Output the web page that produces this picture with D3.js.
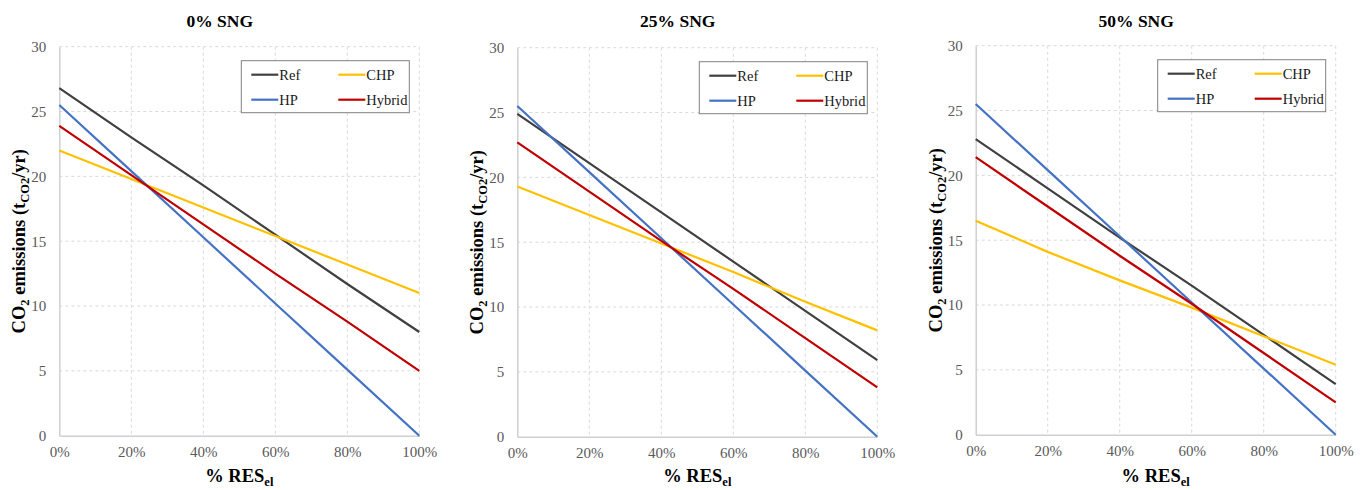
<!DOCTYPE html>
<html>
<head>
<meta charset="utf-8">
<script src="https://cdn.jsdelivr.net/npm/d3@7"></script>
<style>
  html, body { margin: 0; padding: 0; background: #fff; overflow: hidden; }
  #chart { display: block; overflow: visible; }
  svg text { font-family: "Liberation Serif", "Times New Roman", serif; }
</style>
</head>
<body>
<svg id="chart" width="1365" height="490" viewBox="0 0 1365 490"></svg>
<script>
// % renewable electricity (x values)
const pctRES = [0, 20, 40, 60, 80, 100];
const yTicks = [0, 5, 10, 15, 20, 25, 30];
const xTicks = [0, 20, 40, 60, 80, 100];
const panelTitles = ["0% SNG", "25% SNG", "50% SNG"];
const seriesNames = ["Ref", "CHP", "HP", "Hybrid"];

// CO2 emissions (t/yr) per panel
const ref0 = [26.8, 23.0, 19.3, 15.5, 11.7, 8.0];
const chp0 = [22.0, 19.8, 17.6, 15.4, 13.2, 11.0];
const hp0 = [25.5, 20.4, 15.3, 10.2, 5.1, 0];
const hybrid0 = [23.9, 20.1, 16.3, 12.5, 8.8, 5.0];

const ref25 = [24.9, 21.1, 17.3, 13.5, 9.7, 5.9];
const chp25 = [19.3, 17.1, 14.9, 12.7, 10.4, 8.2];
const hp25 = [25.5, 20.4, 15.3, 10.2, 5.1, 0];
const hybrid25 = [22.7, 18.9, 15.1, 11.4, 7.6, 3.8];

const ref50 = [22.8, 19.0, 15.2, 11.5, 7.7, 3.9];
const chp50 = [16.5, 14.1, 11.9, 9.8, 7.6, 5.4];
const hp50 = [25.5, 20.4, 15.3, 10.2, 5.1, 0];
const hybrid50 = [21.4, 17.6, 13.8, 10.1, 6.3, 2.5];

const panelData = [
  [ref0, chp0, hp0, hybrid0],
  [ref25, chp25, hp25, hybrid25],
  [ref50, chp50, hp50, hybrid50],
];

const colors = { Ref: "#404040", CHP: "#FFC000", HP: "#4472C4", Hybrid: "#C00000" };

// plot area positions for each panel
const panelPos = [
  { left: 59.3, top: 46.7 },
  { left: 517.3, top: 47.7 },
  { left: 975.7, top: 45.7 },
];
const innerWidth = 360, innerHeight = 389;

const svg = d3.select("#chart");

panelTitles.forEach((title, p) => {
  const pos = panelPos[p];
  const g = svg.append("g").attr("transform", `translate(${pos.left},${pos.top})`);

  const x = d3.scaleLinear().domain([0, 100]).range([0, innerWidth]);
  const y = d3.scaleLinear().domain([0, 30]).range([innerHeight, 0]);

  // dashed grid lines
  g.append("g")
    .selectAll("line")
    .data(xTicks.slice(1))
    .join("line")
    .attr("x1", d => x(d)).attr("x2", d => x(d))
    .attr("y1", 0).attr("y2", innerHeight)
    .attr("stroke", "#d9d9d9")
    .attr("stroke-dasharray", "3,3");

  g.append("g")
    .selectAll("line")
    .data(yTicks.slice(1))
    .join("line")
    .attr("x1", 0).attr("x2", innerWidth)
    .attr("y1", d => y(d)).attr("y2", d => y(d))
    .attr("stroke", "#d9d9d9")
    .attr("stroke-dasharray", "3,3");

  // axes
  g.append("g")
    .attr("transform", `translate(0,${innerHeight})`)
    .attr("font-size", 15)
    .attr("font-family", "Liberation Serif, serif")
    .call(d3.axisBottom(x).tickValues(xTicks).tickSize(0).tickPadding(11).tickFormat(d => d + "%"))
    .call(a => a.attr("font-size", 15).attr("font-family", "Liberation Serif, serif"))
    .call(a => a.select(".domain").attr("stroke", "#d0d0d0").attr("stroke-width", 1.5))
    .selectAll("text")
    .attr("fill", "#595959");

  g.append("g")
    .call(d3.axisLeft(y).tickValues(yTicks).tickSize(0).tickPadding(13))
    .call(a => a.attr("font-size", 15).attr("font-family", "Liberation Serif, serif"))
    .call(a => a.select(".domain").attr("stroke", "#d0d0d0").attr("stroke-width", 1.5))
    .selectAll("text")
    .attr("fill", "#595959");

  // series lines
  const line = d3.line()
    .x((d, i) => x(pctRES[i]))
    .y(d => y(d));

  seriesNames.forEach((name, s) => {
    g.append("path")
      .datum(panelData[p][s])
      .attr("fill", "none")
      .attr("stroke", colors[name])
      .attr("stroke-width", 2.2)
      .attr("d", line);
  });

  // title
  svg.append("text")
    .attr("x", pos.left + innerWidth / 2 - 19.5)
    .attr("y", 27)
    .attr("text-anchor", "middle")
    .attr("font-size", 17.5)
    .attr("font-weight", "bold")
    .text(title);

  // y axis label
  const yl = svg.append("text")
    .attr("transform", `translate(${pos.left - 34},${pos.top + innerHeight / 2}) rotate(-90)`)
    .attr("text-anchor", "middle")
    .attr("font-size", 18.5)
    .attr("font-weight", "bold");
  yl.append("tspan").text("CO");
  yl.append("tspan").attr("dy", 4).attr("font-size", 12.5).text("2");
  yl.append("tspan").attr("dy", -4).text(" emissions (t");
  yl.append("tspan").attr("dy", 4).attr("font-size", 12.5).text("CO2");
  yl.append("tspan").attr("dy", -4).text("/yr)");

  // x axis label
  const xl = svg.append("text")
    .attr("x", pos.left + innerWidth / 2)
    .attr("y", 482)
    .attr("text-anchor", "middle")
    .attr("font-size", 18.5)
    .attr("font-weight", "bold");
  xl.append("tspan").text("% RES");
  xl.append("tspan").attr("dy", 4).attr("font-size", 12.5).text("el");

  // legend
  const legW = 168, legH = 52;
  const legend = g.append("g").attr("transform", `translate(${innerWidth - 10 - legW},14)`);
  legend.append("rect")
    .attr("width", legW)
    .attr("height", legH)
    .attr("fill", "#fff")
    .attr("stroke", "#808080")
    .attr("stroke-width", 1);

  const items = legend.selectAll(".item")
    .data(seriesNames)
    .join("g")
    .attr("class", "item")
    .attr("transform", (d, i) => `translate(${10 + (i % 2) * 87},${14 + Math.floor(i / 2) * 25})`);

  items.append("line")
    .attr("x1", 0).attr("x2", 27)
    .attr("stroke", d => colors[d])
    .attr("stroke-width", 2.2);

  items.append("text")
    .attr("x", 28)
    .attr("dy", "0.35em")
    .attr("font-size", 14.5)
    .attr("fill", "#1a1a1a")
    .text(d => d);
});
</script>
</body>
</html>
